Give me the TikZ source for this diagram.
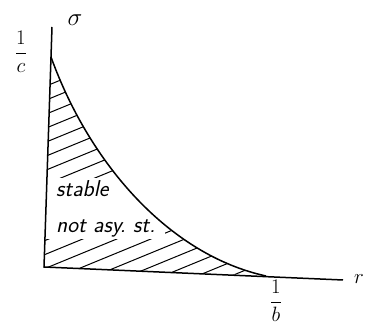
\documentclass[tikz,border=0pt]{standalone}
\usetikzlibrary{positioning}
\newcommand\stabcurve{(51,57) .. controls (90,165) and (170,255) .. (266,276)}
\begin{document}
\begin{tikzpicture}[x=1pt,y=-1pt,
  axis/.style={line width=1.5pt},
  hatch/.style={line width=1pt},
  lbl/.style={font=\fontsize{21}{25}\selectfont},
  region/.style={font=\fontsize{23}{36}\selectfont\sffamily\slshape}]
\useasboundingbox (0,0) rectangle (365,328);
\coordinate (top) at (52,27);
\coordinate (O) at (44,267);
\coordinate (end) at (343,280);
\begin{scope}
\clip \stabcurve -- (O) -- cycle;
\foreach \c in {105,119,...,420}
  \draw[hatch] (0,\c) -- (365,\c-150);
\end{scope}
\node[region, fill=white, align=left, inner ysep=2pt, inner xsep=10pt, anchor=north west] (txt) at (46,178) {stable\\not asy.\ st.};
\draw[axis] (top) -- (O) -- (end);
\draw[axis] \stabcurve;
\node[lbl, font=\fontsize{26}{30}\selectfont] (sig) at (75,20) {$\sigma$};
\node[lbl] (c) at (21,52) {$\displaystyle\frac{1}{c}$};
\node[lbl] (b) at (276,301) {$\displaystyle\frac{1}{b}$};
\node[lbl] (r) at (359,279) {$r$};
\end{tikzpicture}
\end{document}
